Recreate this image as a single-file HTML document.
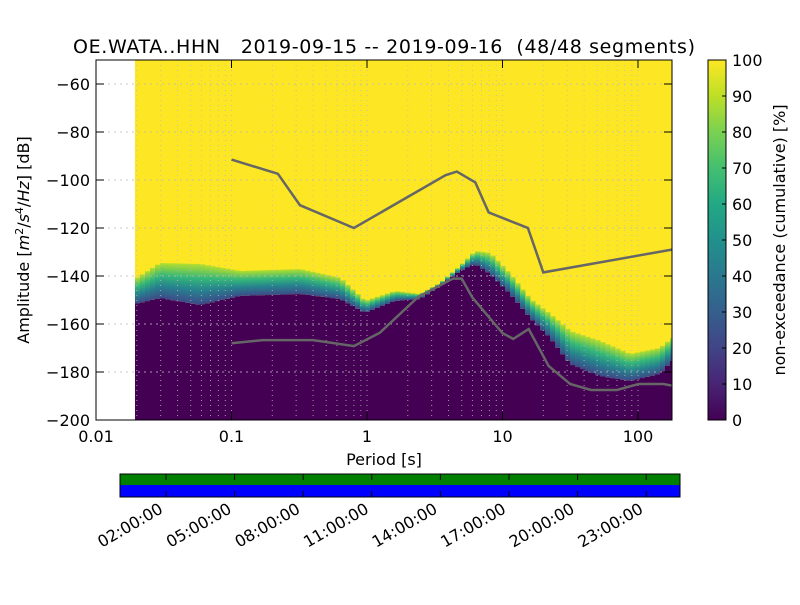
<!DOCTYPE html>
<html><head><meta charset="utf-8"><style>
body{margin:0;background:#fff;}
svg text{font-family:"DejaVu Sans","Liberation Sans",sans-serif;}
</style></head><body>
<svg id="chart" width="800" height="600" xmlns="http://www.w3.org/2000/svg">
<defs>
<linearGradient id="band" x1="0" y1="1" x2="0" y2="0">
<stop offset="0" stop-color="#3e4a89"/><stop offset="0.35" stop-color="#26828e"/>
<stop offset="0.65" stop-color="#35b779"/><stop offset="1" stop-color="#b5de2b"/>
</linearGradient>
<linearGradient id="viridis" x1="0" y1="1" x2="0" y2="0">
<stop offset="0" stop-color="#440154"/><stop offset="0.1" stop-color="#482475"/><stop offset="0.2" stop-color="#414487"/>
<stop offset="0.3" stop-color="#355f8d"/><stop offset="0.4" stop-color="#2a788e"/><stop offset="0.5" stop-color="#21918c"/>
<stop offset="0.6" stop-color="#22a884"/><stop offset="0.7" stop-color="#44bf70"/><stop offset="0.8" stop-color="#7ad151"/>
<stop offset="0.9" stop-color="#bddf26"/><stop offset="1" stop-color="#fde725"/>
</linearGradient>
<clipPath id="clip"><rect x="96" y="60" width="576" height="360"/></clipPath>
</defs>
<g id="plot" clip-path="url(#clip)"></g>
<g id="axes"></g>
</svg>
<script>
const periods=[0.0194,0.0297,0.0586,0.116,0.321,0.632,0.966,1.61,2.46,3.46,4.86,6.27,8.09,11.4,16.0,22.4,31.5,52.5,87.3,145,178];
const purpleTop=[-151.7,-149.2,-152.1,-148.3,-147.5,-149.6,-155.4,-150.4,-149.6,-144.2,-137.9,-135,-139.2,-147.5,-157.5,-165.8,-176.7,-181.7,-183.75,-180.8,-175.4];
const yellowBottom=[-141.3,-134.6,-135,-137.9,-137.1,-140.8,-150.4,-146.25,-147.5,-142.9,-135.8,-129.6,-130.4,-139.2,-149.6,-155.8,-162.9,-167.1,-172.5,-170,-165.8];
const nhnmPeriods=[0.1,0.22,0.32,0.8,3.8,4.6,6.3,7.9,15.4,20,178];
const nhnmDb=[-91.5,-97.4,-110.5,-120,-98,-96.5,-101,-113.5,-120,-138.5,-129];
const nlnmPeriods=[0.1,0.17,0.4,0.8,1.24,2.4,4.3,5,6,10,12,15.6,21.9,31.6,45,70,101,154,178];
const nlnmDb=[-168,-166.7,-166.7,-169.2,-163.7,-148.6,-141.1,-141.1,-149,-163.8,-166.2,-162.1,-177.5,-185,-187.5,-187.5,-185,-185,-185.7];
const xTicks=[0.01,0.1,1,10,100];
const xTickLabels=["0.01","0.1","1","10","100"];
const yTicks=[-60,-80,-100,-120,-140,-160,-180,-200];
const cbTicks=[0,10,20,30,40,50,60,70,80,90,100];
const timeLabels=["02:00:00","05:00:00","08:00:00","11:00:00","14:00:00","17:00:00","20:00:00","23:00:00"];

const NS="http://www.w3.org/2000/svg";
const X=p=>96+(Math.log10(p)+2)*135.5;
const Y=d=>60+(-50-d)*2.4;
function el(tag,attrs,parent,txt){const e=document.createElementNS(NS,tag);for(const k in attrs)e.setAttribute(k,attrs[k]);if(txt!==undefined)e.textContent=txt;parent.appendChild(e);return e;}
const plot=document.getElementById('plot'),axes=document.getElementById('axes');
function interp(arr,x){const lx=Math.log10(x);for(let i=0;i<periods.length-1;i++){const a=Math.log10(periods[i]),b=Math.log10(periods[i+1]);if(lx<=b){const t=Math.max(0,(lx-a)/(b-a));return arr[i]+(arr[i+1]-arr[i])*t;}}return arr[arr.length-1];}

const x0=X(periods[0]);
let bg=el('rect',{x:x0,y:60,width:672-x0,height:360,fill:'#fde725'},plot);


const cw=5;
for(let x=x0;x<672;x+=cw){
  const p=Math.pow(10,(x+cw/2-96)/135.5-2);
  const pt=Y(interp(purpleTop,p)),yb=Y(interp(yellowBottom,p));
  let c=el('rect',{x:x,y:pt,width:cw+0.5,height:420-pt,fill:'#440154'},plot);
  
  
  if(pt>yb){let g=el('rect',{x:x,y:yb,width:cw+0.5,height:pt-yb,fill:'url(#band)'},plot);
  
  }
}
for(let d=-2;d<=2;d++)for(let m=1;m<10;m++){const p=m*Math.pow(10,d);const x=X(p);if(x>672)continue;
 let g=el('line',{x1:x,x2:x,y1:60,y2:420,stroke:'#bbbbbb','stroke-dasharray':'1,4','stroke-width':1,opacity:0.8},plot);
 }
yTicks.forEach(t=>{let g=el('line',{x1:96,x2:672,y1:Y(t),y2:Y(t),stroke:'#bbbbbb','stroke-dasharray':'2,4',opacity:0.8},plot);
 });
let hp=el('polyline',{points:nhnmPeriods.map((p,i)=>X(p)+','+Y(nhnmDb[i])).join(' '),fill:'none',stroke:'#666','stroke-width':2.5},plot);

let lp=el('polyline',{points:nlnmPeriods.map((p,i)=>X(p)+','+Y(nlnmDb[i])).join(' '),fill:'none',stroke:'#666','stroke-width':2.5},plot);

let fr=el('rect',{x:96,y:60,width:576,height:360,fill:'none',stroke:'#000'},axes);

xTicks.forEach((t,i)=>{const x=X(t);el('line',{x1:x,x2:x,y1:420,y2:412,stroke:'#000'},axes);el('line',{x1:x,x2:x,y1:60,y2:68,stroke:'#000'},axes);
 let l=el('text',{x:x,y:442,'font-size':16,'text-anchor':'middle'},axes,xTickLabels[i]);
 });
yTicks.forEach(t=>{const y=Y(t);el('line',{x1:96,x2:104,y1:y,y2:y,stroke:'#000'},axes);el('line',{x1:664,x2:672,y1:y,y2:y,stroke:'#000'},axes);
 let l=el('text',{x:90,y:y+6,'font-size':16,'text-anchor':'end'},axes,String(t).replace('-','\u2212'));
 });
let xt=el('text',{x:384,y:465,'font-size':16,'text-anchor':'middle'},axes,'Period [s]');

let yt=el('text',{x:0,y:0,'font-size':16,'text-anchor':'middle',transform:'translate(29,240) rotate(-90)'},axes);

yt.innerHTML='Amplitude [<tspan font-style="italic">m</tspan><tspan font-size="11" dy="-6">2</tspan><tspan dy="6">/</tspan><tspan font-style="italic">s</tspan><tspan font-size="11" dy="-6">4</tspan><tspan dy="6">/</tspan><tspan font-style="italic">Hz</tspan>] [dB]';
let ti=el('text',{x:384,y:53,'font-size':19,'text-anchor':'middle',textLength:622,lengthAdjust:'spacing'},axes,'OE.WATA..HHN\u00a0\u00a0\u00a02019-09-15 -- 2019-09-16\u00a0\u00a0(48/48 segments)');

let cb=el('rect',{x:708,y:60,width:18,height:360,fill:'url(#viridis)',stroke:'#000'},axes);

cbTicks.forEach(t=>{const y=420-t*3.6;el('line',{x1:726,x2:722,y1:y,y2:y,stroke:'#000'},axes);
 let l=el('text',{x:732,y:y+6,'font-size':16},axes,String(t));
 });
let cl=el('text',{x:0,y:0,'font-size':16,'text-anchor':'middle',transform:'translate(785,240) rotate(-90)'},axes,'non-exceedance (cumulative) [%]');

let tg=el('rect',{x:120,y:474,width:560,height:11,fill:'#008000'},axes);

let tb=el('rect',{x:120,y:485,width:560,height:12,fill:'#0000ff'},axes);

el('rect',{x:120,y:474,width:560,height:23,fill:'none',stroke:'#000'},axes);
timeLabels.forEach((s,i)=>{const x=166+i*68.6;el('line',{x1:x,x2:x,y1:497,y2:491,stroke:'#000'},axes);el('line',{x1:x,x2:x,y1:474,y2:480,stroke:'#000'},axes);
 let l=el('text',{x:0,y:0,'font-size':16,'text-anchor':'end',transform:`translate(${x-2},${512}) rotate(-30)`},axes,s);
 });
</script>
</body></html>
